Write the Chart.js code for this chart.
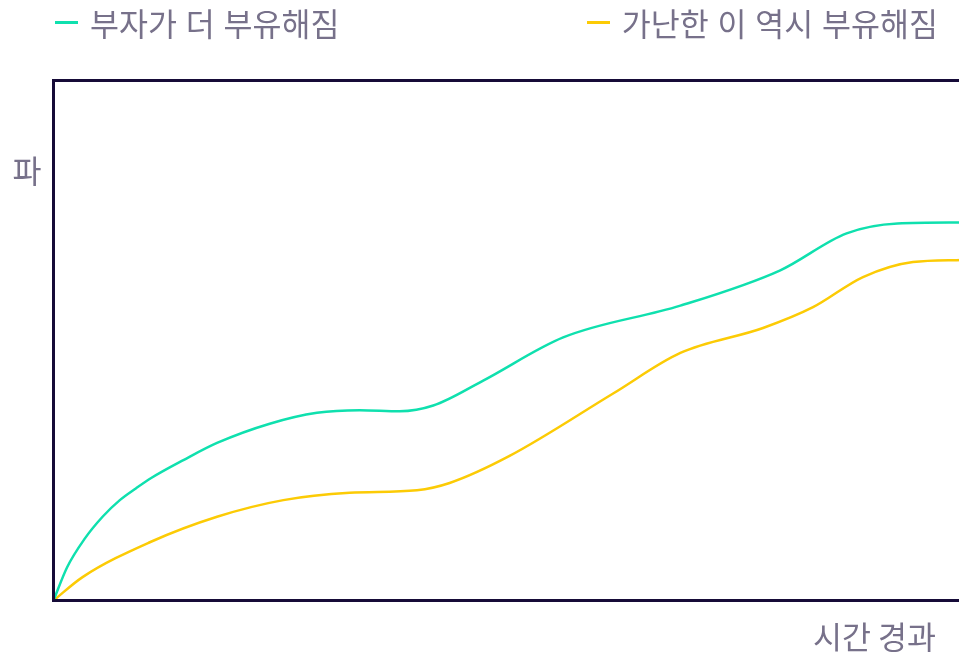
<!DOCTYPE html>
<html lang="ko">
<head>
<meta charset="utf-8">
<title>부자가 더 부유해짐</title>
<script src="https://cdn.jsdelivr.net/npm/chart.js@4/dist/chart.umd.min.js"></script>
<style>
  html, body { margin: 0; padding: 0; background: #fff; overflow: hidden; }
  #wrap { position: relative; width: 959px; height: 655px; overflow: hidden; }
  #chart { position: absolute; left: 0; top: 0; }
  #legend {
    position: absolute; left: 55px; right: 21px; top: 0; height: 44px;
    display: flex; justify-content: space-between; align-items: center;
    font: 31.5px "Noto Sans CJK KR", "Noto Sans", sans-serif; color: #77718a;
  }
  #legend .item { display: flex; align-items: center; }
  #legend .swatch { width: 23px; height: 3px; margin-right: 12px; }
</style>
</head>
<body>
<div id="wrap">
  <canvas id="chart" width="964" height="655"></canvas>
  <div id="legend"></div>
</div>
<script>
// 시간(0~100) 대비 부의 수준(0~100)
const seriesNames = ['부자가 더 부유해짐', '가난한 이 역시 부유해짐'];
const seriesColors = ['#0fe0ae', '#fccb05'];

const richX = [0, 1.5, 3.4, 5.4, 7.3, 9.1, 10.8, 14.3, 18.0, 23.8, 29.0, 33.7, 38.1, 41.8, 47.3, 56.1, 69.0, 80.0, 87.3, 92.9, 100];
const richY = [0, 6.4, 11.8, 16.1, 19.3, 21.6, 23.6, 27.0, 30.3, 34.0, 36.1, 36.6, 36.4, 37.5, 42.3, 50.6, 56.7, 63.5, 70.6, 72.5, 72.7];

const poorX = [0, 3.2, 10.6, 18.0, 25.3, 32.6, 40.0, 43.6, 50.2, 61.6, 69.0, 78.1, 83.6, 89.1, 94.6, 100];
const poorY = [0, 4.5, 11.2, 16.1, 19.3, 20.7, 21.2, 22.6, 27.8, 39.8, 47.6, 52.4, 56.4, 62.2, 65.1, 65.5];

// 축 이름
const yAxisLabel = '파';
const yAxisLabelAt = 82.5;
const xAxisLabel = '시간 경과';

const toPoints = (xs, ys) => xs.map((x, i) => ({ x: x, y: ys[i] }));

const textColor = '#77718a';
const frameColor = '#160b38';
const labelFont = '31.5px "Noto Sans CJK KR", "Noto Sans", sans-serif';

// 테두리와 축 이름 그리기
const framePlugin = {
  id: 'frame',
  afterDatasetsDraw(chart) {
    const { ctx, chartArea: a, scales } = chart;
    ctx.save();
    ctx.strokeStyle = frameColor;
    ctx.lineWidth = 3;
    ctx.strokeRect(a.left, a.top, a.right - a.left, a.bottom - a.top);

    ctx.fillStyle = textColor;
    ctx.font = labelFont;
    ctx.textBaseline = 'middle';
    ctx.textAlign = 'center';
    ctx.fillText(yAxisLabel, a.left - 26.5, scales.y.getPixelForValue(yAxisLabelAt));
    ctx.textAlign = 'right';
    ctx.fillText(xAxisLabel, a.right - 26, a.bottom + 37);
    ctx.restore();
  }
};

const chart = new Chart(document.getElementById('chart'), {
  type: 'line',
  data: {
    datasets: [
      { label: seriesNames[0], data: toPoints(richX, richY), borderColor: seriesColors[0], backgroundColor: seriesColors[0] },
      { label: seriesNames[1], data: toPoints(poorX, poorY), borderColor: seriesColors[1], backgroundColor: seriesColors[1] }
    ]
  },
  options: {
    responsive: false,
    animation: false,
    layout: { padding: { left: 53.5, top: 80.5, right: 2, bottom: 54.5 } },
    elements: {
      line: { borderWidth: 2.5, cubicInterpolationMode: 'monotone' },
      point: { radius: 0 }
    },
    plugins: { legend: { display: false }, tooltip: { enabled: false } },
    scales: {
      x: { type: 'linear', min: 0, max: 100, display: false },
      y: { type: 'linear', min: 0, max: 100, display: false }
    }
  },
  plugins: [framePlugin]
});

// 범례
const legend = document.getElementById('legend');
chart.data.datasets.forEach(ds => {
  const item = document.createElement('div');
  item.className = 'item';
  const sw = document.createElement('span');
  sw.className = 'swatch';
  sw.style.background = ds.borderColor;
  const label = document.createElement('span');
  label.textContent = ds.label;
  item.appendChild(sw);
  item.appendChild(label);
  legend.appendChild(item);
});
</script>
</body>
</html>
